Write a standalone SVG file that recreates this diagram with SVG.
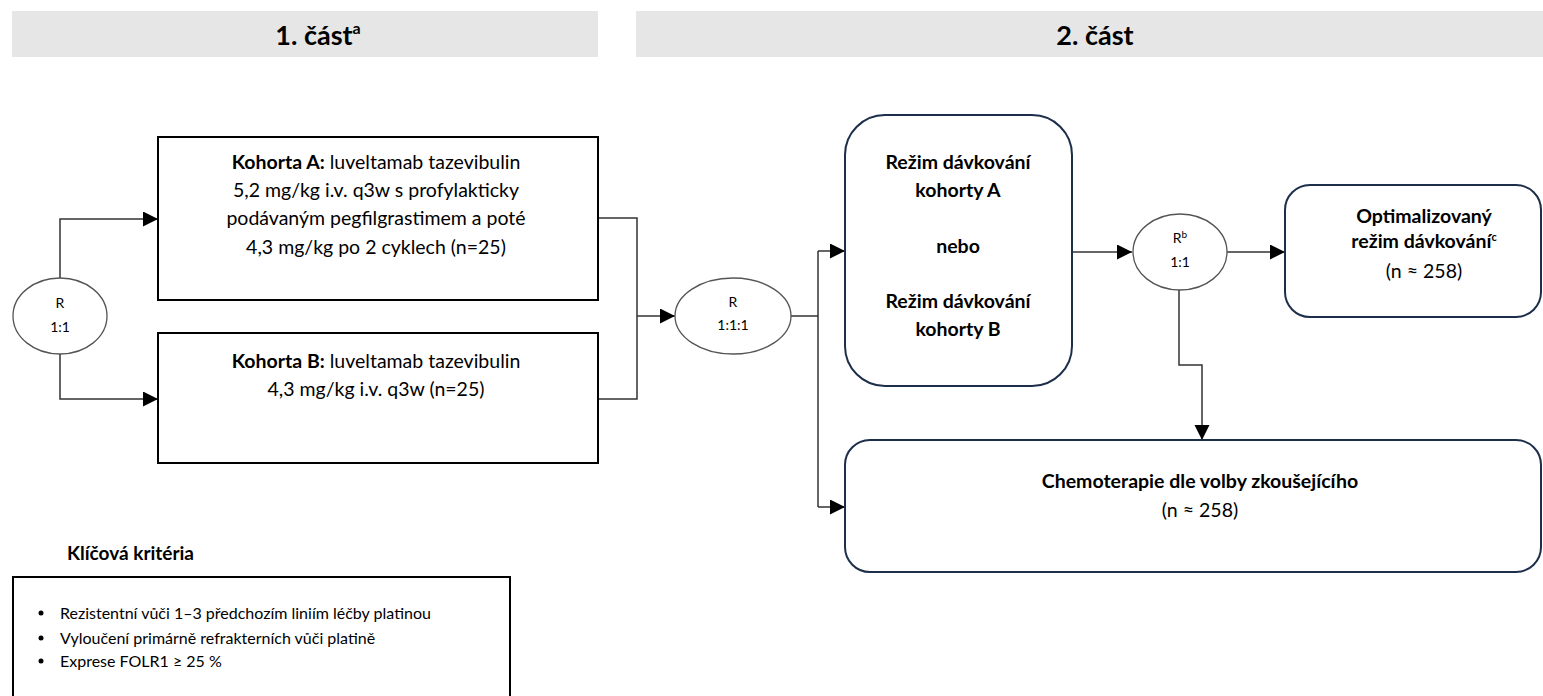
<svg xmlns="http://www.w3.org/2000/svg" width="1543" height="696" viewBox="0 0 1543 696">
<defs>
<style>
.t{font-family:Lato,"Open Sans","Liberation Sans",sans-serif;fill:#000}
.b{font-weight:bold}
.hdr{fill:#e6e6e6}
.hd{font-size:27px;font-weight:bold;text-anchor:middle}
.box{fill:#fff;stroke:#000;stroke-width:2}
.rbox{fill:#fff;stroke:#1c2e4a;stroke-width:2}
.ell{fill:#fff;stroke:#555;stroke-width:1.3}
.conn{fill:none;stroke:#333;stroke-width:1.5}
.m{font-size:19.5px;text-anchor:middle}
.s{font-size:14px;text-anchor:middle}
.bl{font-size:16px}
</style>
<marker id="ar" markerUnits="userSpaceOnUse" markerWidth="16" markerHeight="16" refX="15" refY="7.5" orient="auto">
<path d="M0,0 L15,7.5 L0,15 z" fill="#000"/>
</marker>
</defs>
<rect width="1543" height="696" fill="#fff"/>
<g id="header1">
<rect class="hdr" x="12" y="11" width="586" height="46"/>
<text class="t hd" x="318" y="45">1. část<tspan font-size="16" dy="-11">a</tspan></text>
</g>
<g id="header2">
<rect class="hdr" x="636" y="11" width="907" height="46"/>
<text class="t hd" x="1095" y="45">2. část</text>
</g>
<g id="connectors">
<path class="conn" d="M60,278 V219 H158" marker-end="url(#ar)"/>
<path class="conn" d="M60,354 V399 H158" marker-end="url(#ar)"/>
<path class="conn" d="M598,218 H637 V399 H598"/>
<path class="conn" d="M637,316 H675" stroke-width="2" marker-end="url(#ar)"/>
<path class="conn" d="M791,316 H818"/>
<path class="conn" d="M818,251 V507"/>
<path class="conn" d="M818,251 H845" marker-end="url(#ar)"/>
<path class="conn" d="M818,507 H845" marker-end="url(#ar)"/>
<path class="conn" d="M1072,252 H1132" marker-end="url(#ar)"/>
<path class="conn" d="M1227,252 H1285" marker-end="url(#ar)"/>
<path class="conn" d="M1179,290 V365 H1202 V440" marker-end="url(#ar)"/>
</g>
<g id="rand1">
<ellipse class="ell" cx="60" cy="316" rx="47" ry="38"/>
<text class="t s" x="60" y="308">R</text>
<text class="t s" x="60" y="332">1:1</text>
</g>
<g id="kohortaA">
<rect class="box" x="158" y="137" width="440" height="163"/>
<text class="t m" x="376" y="169"><tspan class="b">Kohorta A:</tspan> luveltamab tazevibulin</text>
<text class="t m" x="376" y="197">5,2 mg/kg i.v. q3w s profylakticky</text>
<text class="t m" x="376" y="225">podávaným pegfilgrastimem a poté</text>
<text class="t m" x="376" y="254">4,3 mg/kg po 2 cyklech (n=25)</text>
</g>
<g id="kohortaB">
<rect class="box" x="158" y="333" width="440" height="130"/>
<text class="t m" x="376" y="368"><tspan class="b">Kohorta B:</tspan> luveltamab tazevibulin</text>
<text class="t m" x="376" y="396">4,3 mg/kg i.v. q3w (n=25)</text>
</g>
<g id="rand2">
<ellipse class="ell" cx="733" cy="316" rx="58" ry="38"/>
<text class="t s" x="733" y="307">R</text>
<text class="t s" x="733" y="330">1:1:1</text>
</g>
<g id="rezim">
<rect class="rbox" x="845" y="115" width="227" height="271" rx="40"/>
<text class="t m b" x="958" y="169">Režim dávkování</text>
<text class="t m b" x="958" y="197">kohorty A</text>
<text class="t m b" x="958" y="253">nebo</text>
<text class="t m b" x="958" y="308">Režim dávkování</text>
<text class="t m b" x="958" y="336">kohorty B</text>
</g>
<g id="rand3">
<ellipse class="ell" cx="1180" cy="252" rx="47" ry="38"/>
<text class="t s" x="1180" y="243">R<tspan font-size="10" dy="-5">b</tspan></text>
<text class="t s" x="1180" y="267">1:1</text>
</g>
<g id="optim">
<rect class="rbox" x="1285" y="185" width="256" height="132" rx="25"/>
<text class="t m b" x="1424" y="223">Optimalizovaný</text>
<text class="t m b" x="1424" y="248">režim dávkování<tspan font-size="11" dy="-7">c</tspan></text>
<text class="t m" x="1424" y="278">(n ≈ 258)</text>
</g>
<g id="chemo">
<rect class="rbox" x="845" y="440" width="696" height="132" rx="25"/>
<text class="t m b" x="1200" y="488">Chemoterapie dle volby zkoušejícího</text>
<text class="t m" x="1200" y="517">(n ≈ 258)</text>
</g>
<g id="kriteria">
<text class="t b" x="67" y="560" font-size="19">Klíčová kritéria</text>
<path class="box" d="M13,700 V577 H510 V700" fill="#fff"/>
<circle cx="41" cy="613" r="2.5" fill="#000"/>
<circle cx="41" cy="638" r="2.5" fill="#000"/>
<circle cx="41" cy="661" r="2.5" fill="#000"/>
<text class="t bl" x="60" y="619">Rezistentní vůči 1–3 předchozím liniím léčby platinou</text>
<text class="t bl" x="60" y="644">Vyloučení primárně refrakterních vůči platině</text>
<text class="t bl" x="60" y="667">Exprese FOLR1 ≥ 25 %</text>
</g>
</svg>
